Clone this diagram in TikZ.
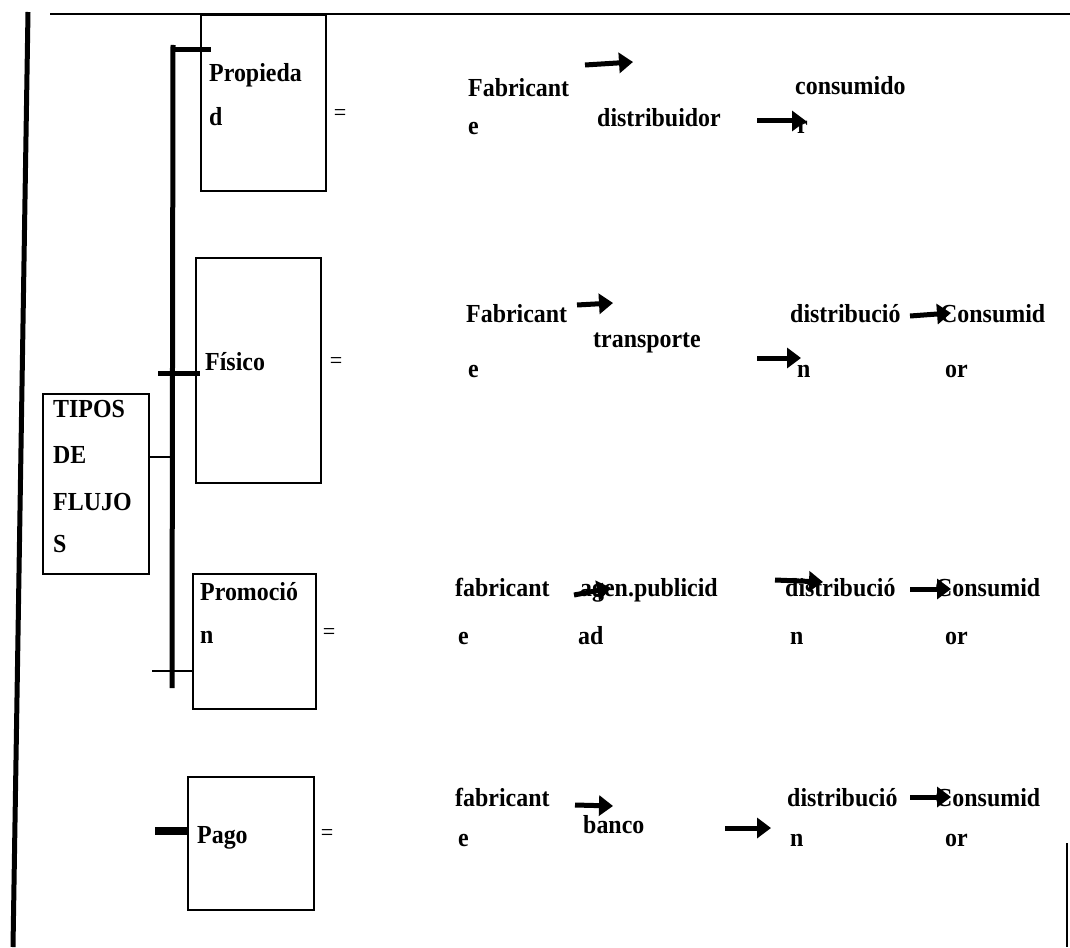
\documentclass[tikz,border=0pt]{standalone}
\usepackage{fontspec}
\setmainfont[FakeStretch=0.92]{Liberation Serif}
\usetikzlibrary{arrows.meta}

\begin{document}
\begin{tikzpicture}[x=1pt,y=-1pt,
  caja/.style={draw, line width=2pt, inner sep=0pt, anchor=north west},
  txt/.style={font=\bfseries\fontsize{26}{30}\selectfont, inner sep=0pt, anchor=base west},
  igual/.style={font=\fontsize{24}{28}\selectfont, inner sep=0pt},
  flecha/.style={line width=5pt, -{Triangle[length=14pt,width=20pt]}},
  ]
  % page 1070 x 947 px, 1 px = 1 pt, y downwards
  \useasboundingbox (0,0) rectangle (1070,947);
  % frame of the scanned page
  \draw[line width=5pt] (28,12) -- (13,947);
  \draw[line width=2pt] (50,14) -- (1070,14);
  \draw[line width=2pt] (1067,843) -- (1067,947);
  % boxes
  \node[caja, minimum width=125pt, minimum height=176pt] (prop) at (200,14) {};
  \node[caja, minimum width=125pt, minimum height=225pt] (fis) at (195,257) {};
  \node[caja, minimum width=106pt, minimum height=180pt] (tipos) at (42,393) {};
  \node[caja, minimum width=123pt, minimum height=135pt] (prom) at (192,573) {};
  \node[caja, minimum width=126pt, minimum height=133pt] (pago) at (187,776) {};
  % box texts
  \node[txt] (propa) at (209,82) {Propieda};
  \node[txt] (propb) at (209,125) {d};
  \node[txt] (fisa) at (205,370) {Físico};
  \node[txt] (tip1) at (53,417) {TIPOS};
  \node[txt] (tip2) at (53,463) {DE};
  \node[txt] (tip3) at (53,510) {FLUJO};
  \node[txt] (tip4) at (53,552) {S};
  \node[txt] (proma) at (200,600) {Promoció};
  \node[txt] (promb) at (200,643) {n};
  \node[txt] (pagoa) at (197,843) {Pago};
  % equal signs
  \foreach \n/\xx/\yy in {1/340/115, 2/336/363, 3/329/634, 4/327/835}
    \node[igual] (eq\n) at (\xx,\yy) {=};
  % bracket bar and stubs
  \coordinate (bartop) at (173,45);
  \coordinate (barbot) at (172,688);
  \draw[line width=5pt] (bartop) -- (barbot);
  \coordinate (sp) at (173,50);  \coordinate (sp2) at (211,50);
  \draw[line width=5pt] (sp) -- (sp2);
  \coordinate (sf) at (158,373); \coordinate (sf2) at (200,373);
  \draw[line width=5pt] (sf) -- (sf2);
  \coordinate (st) at (172,457);
  \draw[line width=2pt] (tipos.east |- st) -- (st);
  \coordinate (sr) at (152,671);
  \draw[line width=2pt] (sr) -- (prom.west |- sr);
  \coordinate (sg) at (155,831);
  \draw[line width=8pt] (sg) -- (pago.west |- sg);
  % row Propiedad
  \node[txt] (f1a) at (468,97) {Fabricant};
  \node[txt] (f1b) at (468,135) {e};
  \node[txt] (d1) at (597,127) {distribuidor};
  \node[txt] (c1a) at (795,95) {consumido};
  \node[txt] (c1b) at (797,133) {r};
  % row Fisico
  \node[txt] (f2a) at (466,322) {Fabricant};
  \node[txt] (f2b) at (468,377) {e};
  \node[txt] (t2) at (593,347) {transporte};
  \node[txt] (d2a) at (790,322) {distribució};
  \node[txt] (d2b) at (797,377) {n};
  \node[txt] (c2a) at (940,322) {Consumid};
  \node[txt] (c2b) at (945,377) {or};
  % row Promocion
  \node[txt] (f3a) at (455,596) {fabricant};
  \node[txt] (f3b) at (458,644) {e};
  \node[txt] (g3a) at (580,596) {agen.publicid};
  \node[txt] (g3b) at (578,644) {ad};
  \node[txt] (d3a) at (785,596) {distribució};
  \node[txt] (d3b) at (790,644) {n};
  \node[txt] (c3a) at (935,596) {Consumid};
  \node[txt] (c3b) at (945,644) {or};
  % row Pago
  \node[txt] (f4a) at (455,806) {fabricant};
  \node[txt] (f4b) at (458,846) {e};
  \node[txt] (b4) at (583,833) {banco};
  \node[txt] (d4a) at (787,806) {distribució};
  \node[txt] (d4b) at (790,846) {n};
  \node[txt] (c4a) at (935,806) {Consumid};
  \node[txt] (c4b) at (945,846) {or};
  % arrows
  \foreach \n/\xa/\ya/\xb/\yb in {1/585/65/633/62, 2/757/121/806/121,
      3/577/305/613/303, 4/757/358/801/358, 5/910/316/951/313,
      6/574/595/611/588, 7/775/580/823/582, 8/910/589/951/589,
      9/575/805/613/806, 10/725/828/771/828, 11/910/797/951/797}{
    \coordinate (s\n) at (\xa,\ya);
    \coordinate (e\n) at (\xb,\yb);
    \draw[flecha] (s\n) -- (e\n);}
\end{tikzpicture}
\end{document}
